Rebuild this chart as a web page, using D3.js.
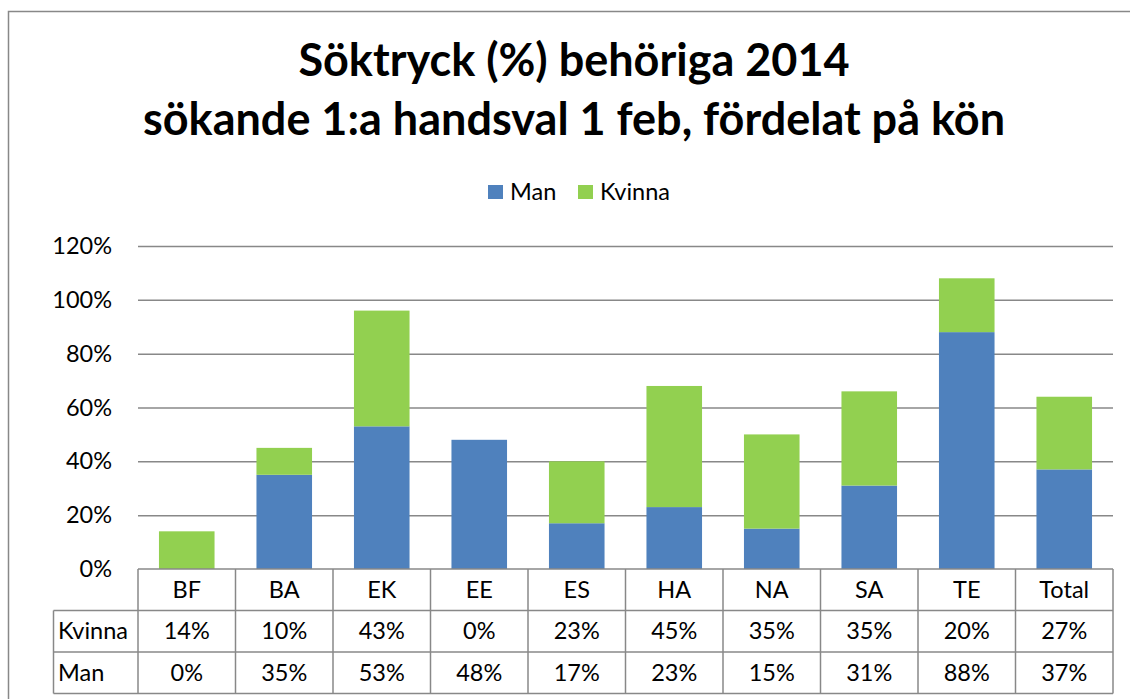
<!DOCTYPE html>
<html>
<head>
<meta charset="utf-8">
<script src="https://cdn.jsdelivr.net/npm/d3@7"></script>
<style>
  body { margin: 0; background: #fff; }
  text { font-family: Lato, "Open Sans", sans-serif; fill: #000; }
</style>
</head>
<body>
<div id="chart"></div>
<script>
// chart data
var categories = ["BF", "BA", "EK", "EE", "ES", "HA", "NA", "SA", "TE", "Total"];
var manValues = [0, 35, 53, 48, 17, 23, 15, 31, 88, 37];
var kvinnaValues = [14, 10, 43, 0, 23, 45, 35, 35, 20, 27];
var seriesNames = ["Man", "Kvinna"];
var yTicks = [0, 20, 40, 60, 80, 100, 120];
var titleLines = ["Söktryck (%) behöriga 2014", "sökande 1:a handsval 1 feb, fördelat på kön"];

var colors = { Man: "#4F81BD", Kvinna: "#92D050" };
var gridColor = "#888888";
var fontSize = "23.5px";

var width = 1130, height = 699;
var plot = { left: 138, right: 1113, top: 246, bottom: 569 };
var rowH = 41.5;

var svg = d3.select("#chart")
    .append("svg")
    .attr("width", width)
    .attr("height", height);

// outer frame
svg.append("path")
    .attr("d", "M8.5,699 V11.5 H1130")
    .attr("fill", "none")
    .attr("stroke", gridColor)
    .attr("stroke-width", 1.5);

// title
svg.selectAll(".title")
    .data(titleLines)
    .enter().append("text")
    .attr("class", "title")
    .attr("x", 574)
    .attr("y", function (d, i) { return 76 + i * 59; })
    .attr("text-anchor", "middle")
    .style("font-size", "45px")
    .style("font-weight", "bold")
    .text(function (d) { return d; });

// legend
var legendX = [488, 578];
var legend = svg.selectAll(".legend")
    .data(seriesNames)
    .enter().append("g")
    .attr("class", "legend")
    .attr("transform", function (d, i) { return "translate(" + legendX[i] + ",185)"; });
legend.append("rect")
    .attr("width", 15)
    .attr("height", 14)
    .attr("fill", function (d) { return colors[d]; });
legend.append("text")
    .attr("x", 22)
    .attr("y", 7)
    .attr("dy", "0.35em")
    .style("font-size", fontSize)
    .text(function (d) { return d; });

// scales
var y = d3.scaleLinear()
    .domain([0, 120])
    .range([plot.bottom, plot.top]);

var xBar = d3.scaleBand()
    .domain(categories)
    .range([plot.left, plot.right])
    .paddingInner(0.43)
    .paddingOuter(0.215);

var xCol = d3.scaleBand()
    .domain(categories)
    .range([plot.left, plot.right])
    .padding(0);

// gridlines + y labels
var yAxis = svg.append("g")
    .attr("transform", "translate(" + plot.left + ",0)")
    .call(d3.axisLeft(y)
        .tickValues(yTicks)
        .tickSize(-(plot.right - plot.left))
        .tickPadding(26)
        .tickFormat(function (d) { return d + "%"; }));
yAxis.select(".domain").remove();
yAxis.selectAll(".tick line")
    .attr("stroke", gridColor)
    .attr("stroke-width", 1.5);
yAxis.selectAll(".tick text")
    .style("font-size", fontSize)
    .style("font-family", "Lato, sans-serif")
    .attr("fill", "#000");
yAxis.selectAll(".tick")
    .filter(function (d) { return d === 0; })
    .select("line").remove();

// stacked bars
var stackData = categories.map(function (c, i) {
    return { cat: c, Man: manValues[i], Kvinna: kvinnaValues[i] };
});
var stacked = d3.stack().keys(seriesNames)(stackData);

svg.append("g")
    .selectAll("g")
    .data(stacked)
    .enter().append("g")
    .attr("fill", function (d) { return colors[d.key]; })
    .selectAll("rect")
    .data(function (d) { return d; })
    .enter().append("rect")
    .attr("x", function (d) { return xBar(d.data.cat); })
    .attr("width", xBar.bandwidth())
    .attr("y", function (d) { return y(d[1]); })
    .attr("height", function (d) { return y(d[0]) - y(d[1]); });

// data table
var table = svg.append("g");
var tableLeft = 53.5;
var rows = [
    { name: "Kvinna", values: kvinnaValues },
    { name: "Man", values: manValues }
];
var tableBottom = plot.bottom + rowH * 3;

// horizontal lines
table.append("line")
    .attr("x1", plot.left).attr("x2", plot.right)
    .attr("y1", plot.bottom).attr("y2", plot.bottom);
[1, 2, 3].forEach(function (r) {
    table.append("line")
        .attr("x1", tableLeft).attr("x2", plot.right)
        .attr("y1", plot.bottom + r * rowH).attr("y2", plot.bottom + r * rowH);
});
// vertical lines
table.append("line")
    .attr("x1", tableLeft).attr("x2", tableLeft)
    .attr("y1", plot.bottom + rowH).attr("y2", tableBottom);
categories.forEach(function (c) {
    table.append("line")
        .attr("x1", xCol(c)).attr("x2", xCol(c))
        .attr("y1", plot.bottom).attr("y2", tableBottom);
});
table.append("line")
    .attr("x1", plot.right).attr("x2", plot.right)
    .attr("y1", plot.bottom).attr("y2", tableBottom);
table.selectAll("line")
    .attr("stroke", gridColor)
    .attr("stroke-width", 1.5);

// header labels
table.selectAll(".cat")
    .data(categories)
    .enter().append("text")
    .attr("class", "cat")
    .attr("x", function (d) { return xCol(d) + xCol.bandwidth() / 2; })
    .attr("y", plot.bottom + rowH / 2)
    .attr("dy", "0.35em")
    .attr("text-anchor", "middle")
    .style("font-size", fontSize)
    .text(function (d) { return d; });

// rows
rows.forEach(function (row, r) {
    var cy = plot.bottom + rowH * (r + 1.5);
    table.append("text")
        .attr("x", 58)
        .attr("y", cy)
        .attr("dy", "0.35em")
        .style("font-size", fontSize)
        .text(row.name);
    table.selectAll(".v" + r)
        .data(row.values)
        .enter().append("text")
        .attr("x", function (d, i) { return xCol(categories[i]) + xCol.bandwidth() / 2; })
        .attr("y", cy)
        .attr("dy", "0.35em")
        .attr("text-anchor", "middle")
        .style("font-size", fontSize)
        .text(function (d) { return d + "%"; });
});
</script>
</body>
</html>
